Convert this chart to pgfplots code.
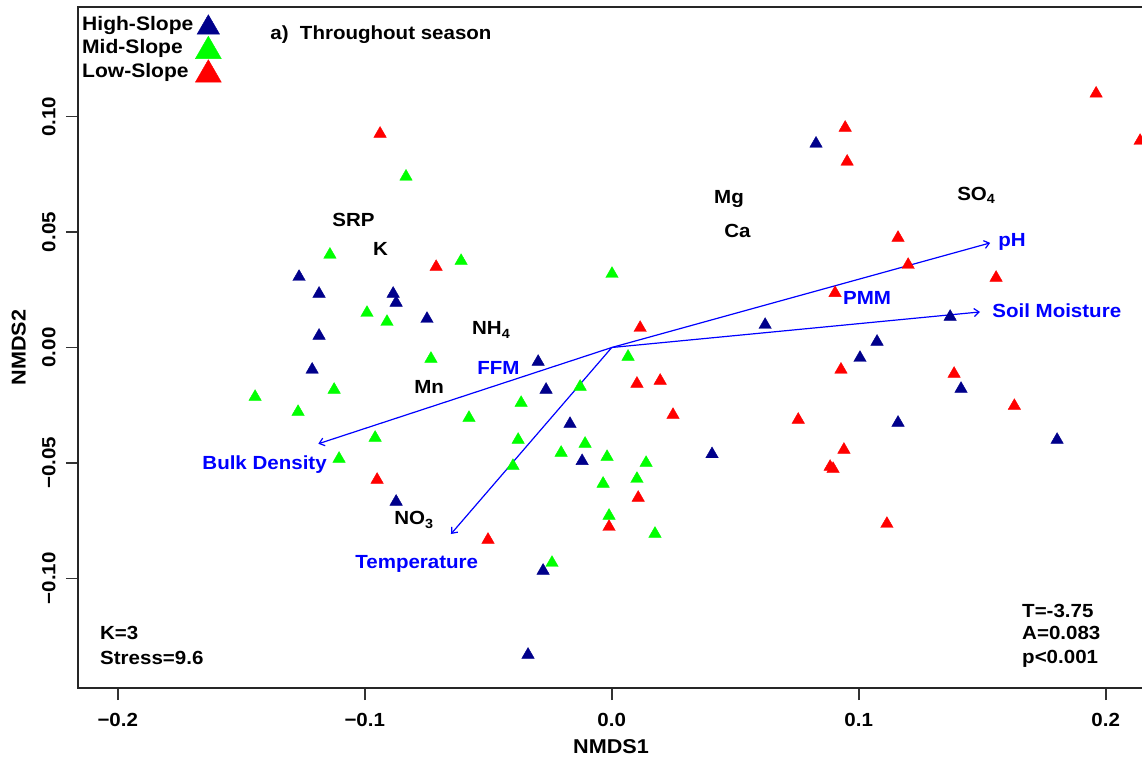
\documentclass[border=0pt]{standalone}
\usepackage{fontspec}
\setmainfont{Liberation Sans}[FakeStretch=1.08]
\usepackage{pgfplots}
\usepackage{pgfplotstable}
\pgfplotsset{compat=1.18}
\usetikzlibrary{arrows.meta}

\definecolor{hiblue}{HTML}{00008B}
\definecolor{midgreen}{HTML}{00FF00}
\definecolor{lowred}{HTML}{FF0000}
\definecolor{vecblue}{HTML}{0000FF}

\newcommand{\labfont}{\fontsize{19}{22}\selectfont\bfseries}

% NMDS site scores
\pgfplotstableread{
x y
-0.1266 0.0306
-0.1185 0.0233
-0.0885 0.0233
-0.0873 0.0194
-0.1185 0.0051
-0.1213 -0.0096
-0.0873 -0.0668
-0.0748 0.0124
-0.0298 -0.0062
-0.0266 -0.0183
-0.0169 -0.0331
-0.0120 -0.0492
0.0406 -0.0462
-0.0278 -0.0967
-0.0339 -0.1331
0.0827 0.0883
0.0621 0.0098
0.1370 0.0133
0.1074 0.0025
0.1005 -0.0045
0.1414 -0.0179
0.1159 -0.0326
0.1803 -0.0400
}\highslope

\pgfplotstableread{
x y
-0.0833 0.0740
-0.1141 0.0402
-0.0610 0.0375
0.0001 0.0319
-0.0991 0.0150
-0.0910 0.0111
-0.1124 -0.0183
-0.1444 -0.0214
-0.1270 -0.0279
-0.0958 -0.0391
-0.1104 -0.0482
-0.0732 -0.0049
0.0066 -0.0040
-0.0128 -0.0170
-0.0367 -0.0240
-0.0578 -0.0305
-0.0379 -0.0400
-0.0108 -0.0417
-0.0205 -0.0456
-0.0019 -0.0474
0.0139 -0.0500
-0.0400 -0.0513
0.0102 -0.0569
-0.0035 -0.0590
-0.0011 -0.0729
0.0175 -0.0807
-0.0242 -0.0933
}\midslope

\pgfplotstableread{
x y
-0.0938 0.0926
0.0945 0.0952
0.0953 0.0805
0.1961 0.1100
0.2139 0.0895
0.1159 0.0475
-0.0950 -0.0573
-0.0711 0.0349
0.0115 0.0085
0.0102 -0.0157
0.0196 -0.0144
0.0248 -0.0292
0.0107 -0.0651
-0.0011 -0.0777
-0.0501 -0.0833
0.1200 0.0358
0.1556 0.0302
0.0904 0.0236
0.0928 -0.0096
0.1386 -0.0114
0.1630 -0.0253
0.0755 -0.0313
0.0940 -0.0443
0.0884 -0.0517
0.0896 -0.0526
0.1114 -0.0764
}\lowslope

\begin{document}
\begin{tikzpicture}
\begin{axis}[
  scale only axis,
  width=1066pt, height=681pt,
  xmin=-0.2161, xmax=0.2155,
  ymin=-0.1475, ymax=0.1475,
  xtick={-0.2,-0.1,0,0.1,0.2},
  xticklabels={−0.2,−0.1,0.0,0.1,0.2},
  ytick={-0.1,-0.05,0,0.05,0.1},
  yticklabels={−0.10,−0.05,0.00,0.05,0.10},
  tick pos=left,
  tick align=outside,
  major tick length=12pt,
  tick style={line width=1.5pt, black!80},
  axis line style={line width=1.5pt, black!85},
  xticklabel style={font=\labfont},
  yticklabel style={font=\labfont, rotate=90, anchor=south},
  xticklabel shift=10pt,
  yticklabel shift=7pt,
  xlabel={NMDS1}, ylabel={NMDS2},
  xlabel style={font=\fontsize{20}{22}\selectfont\bfseries, at={(axis description cs:0.5,-0.0866)}, anchor=center},
  ylabel style={font=\fontsize{20}{22}\selectfont\bfseries, at={(axis description cs:-0.0555,0.5)}, anchor=center},
  legend plot pos=right,
  legend cell align=left,
  legend style={at={(rel axis cs:0,1)}, anchor=north west, xshift=4pt, yshift=-8pt,
    draw=none, fill=none, inner sep=0pt, row sep=3.5pt,
    font=\fontsize{19.5}{22}\selectfont\bfseries,
    nodes={inner sep=0pt, text height=15pt, text depth=5pt}},
  legend image code/.code={\path[draw=none, fill=none] (0pt,0pt) -- (28pt,0pt); \draw[#1, overlay] plot coordinates {(15pt,-2.5pt)};},
]
\addplot[only marks, mark=triangle*, mark size=7.2pt, color=hiblue, legend image post style={mark size=13pt}] table {\highslope};
\addlegendentry{High-Slope}
\addplot[only marks, mark=triangle*, mark size=7.2pt, color=midgreen, legend image post style={mark size=15pt}] table {\midslope};
\addlegendentry{Mid-Slope}
\addplot[only marks, mark=triangle*, mark size=7.2pt, color=lowred, legend image post style={mark size=15pt}] table {\lowslope};
\addlegendentry{Low-Slope}

% fitted environmental vectors
\addplot[forget plot, vecblue, line width=1.2pt, -{Straight Barb[length=5pt,width=8pt]}] coordinates {(0,0) (0.1532,0.0453)};
\addplot[forget plot, vecblue, line width=1.2pt, -{Straight Barb[length=5pt,width=8pt]}] coordinates {(0,0) (0.1491,0.0154)};
\addplot[forget plot, vecblue, line width=1.2pt, -{Straight Barb[length=5pt,width=8pt]}] coordinates {(0,0) (-0.1188,-0.0417)};
\addplot[forget plot, vecblue, line width=1.2pt, -{Straight Barb[length=5pt,width=8pt]}] coordinates {(0,0) (-0.0651,-0.0808)};

% vector labels
\begin{scope}[every node/.style={anchor=base west, inner sep=0pt, font=\labfont, text=vecblue}]
\node at (axis cs:0.1564,0.0436) {pH};
\node at (axis cs:0.1540,0.0129) {Soil Moisture};
\node at (axis cs:0.0936,0.0185) {PMM};
\node at (axis cs:-0.0545,-0.0118) {FFM};
\node at (axis cs:-0.1658,-0.0530) {Bulk Density};
\node at (axis cs:-0.1039,-0.0958) {Temperature};
\end{scope}
% non-significant variables
\begin{scope}[every node/.style={anchor=base west, inner sep=0pt, font=\labfont}]
\node at (axis cs:-0.1132,0.0523) {SRP};
\node at (axis cs:-0.0967,0.0397) {K};
\node at (axis cs:0.0414,0.0622) {Mg};
\node at (axis cs:0.0455,0.0476) {Ca};
\node at (axis cs:0.1398,0.0636) {SO\textsubscript{4}};
\node at (axis cs:-0.0566,0.0055) {NH\textsubscript{4}};
\node at (axis cs:-0.0800,-0.0201) {Mn};
\node at (axis cs:-0.0881,-0.0768) {NO\textsubscript{3}};
\node at (axis cs:-0.1383,0.1333) {a)\hspace{0.6em}Throughout season};
\node at (axis cs:-0.2072,-0.1266) {K=3};
\node at (axis cs:-0.2072,-0.1375) {Stress=9.6};
\node at (axis cs:0.1661,-0.1171) {T=-3.75};
\node at (axis cs:0.1661,-0.1266) {A=0.083};
\node at (axis cs:0.1661,-0.1371) {p<0.001};
\end{scope}
\end{axis}
\pgfresetboundingbox
\path[use as bounding box] (current axis.south west) ++(-78pt,-75pt) rectangle ++(1142pt,763pt);
\end{tikzpicture}
\end{document}
